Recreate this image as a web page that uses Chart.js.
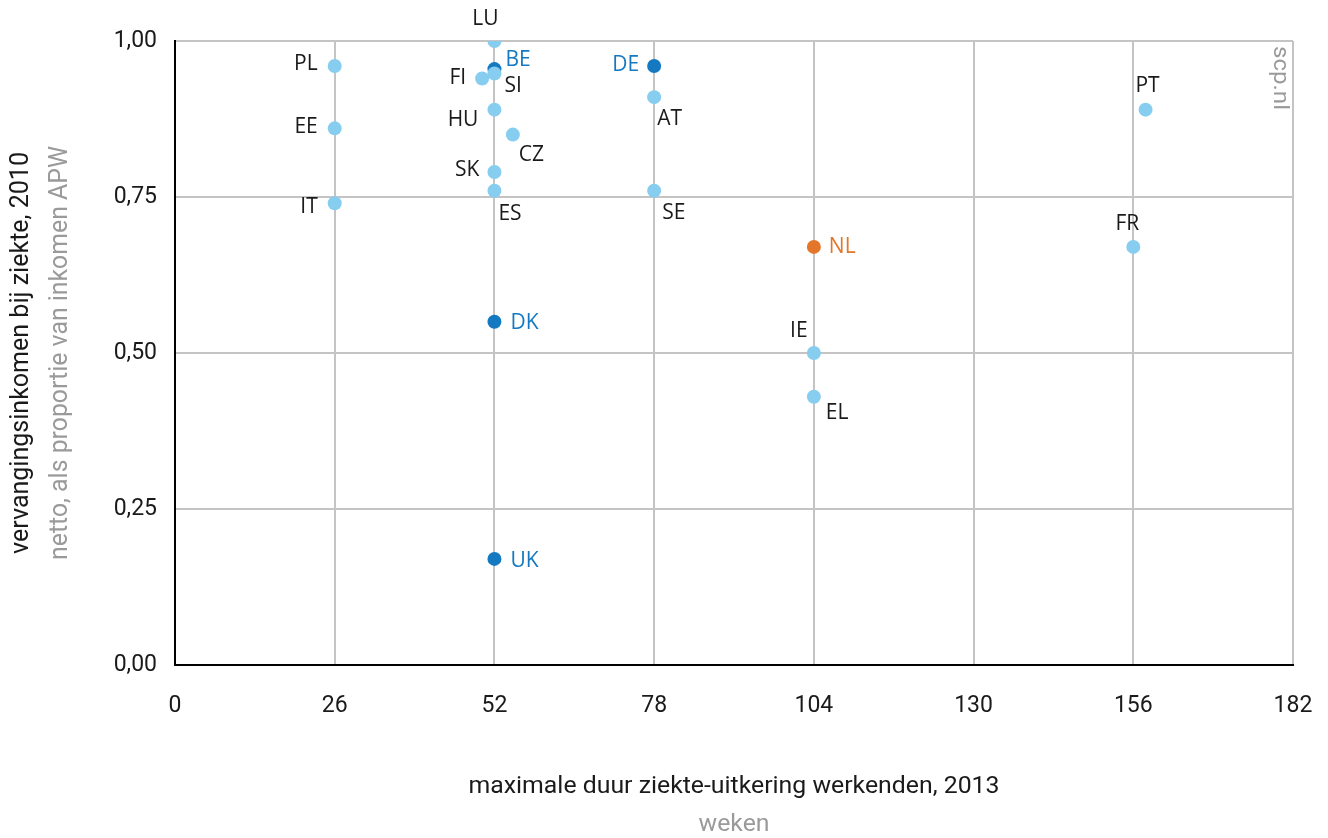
<!DOCTYPE html>
<html>
<head>
<meta charset="utf-8">
<script src="https://cdn.jsdelivr.net/npm/chart.js@4.4.1/dist/chart.umd.min.js"></script>
<style>
  html, body { margin: 0; padding: 0; background: #fff; }
  #wrap { width: 1328px; height: 838px; position: relative; }
</style>
</head>
<body>
<div id="wrap"><canvas id="chart" width="1328" height="838"></canvas></div>
<script>
// data
var countries = ['LU', 'PL', 'BE', 'FI', 'SI', 'DE', 'AT', 'EE', 'HU', 'CZ', 'SK', 'ES', 'SE', 'IT', 'NL', 'FR', 'PT', 'DK', 'IE', 'EL', 'UK'];
var maxWeeks = [52, 26, 52, 50, 52, 78, 78, 26, 52, 55, 52, 52, 78, 26, 104, 156, 158, 52, 104, 104, 52];
var replacementRate = [1.00, 0.96, 0.955, 0.94, 0.948, 0.96, 0.91, 0.86, 0.89, 0.85, 0.79, 0.76, 0.76, 0.74, 0.67, 0.67, 0.89, 0.55, 0.50, 0.43, 0.17];
var highlight = ['', '', 'blue', '', '', 'blue', '', '', '', '', '', '', '', '', 'nl', '', '', 'blue', '', '', 'blue'];
var xTicks = [0, 26, 52, 78, 104, 130, 156, 182];
var yTicks = [0, 0.25, 0.5, 0.75, 1];

// label placement next to each point: [dx, dy, align]
var labelPlacement = {
  LU: [-9, -22, 'center'], PL: [-17, -2, 'right'], BE: [11, -9, 'left'], FI: [-16, 0, 'right'],
  SI: [10, 13, 'left'], DE: [-15, -1, 'right'], AT: [3, 22, 'left'], EE: [-17, -1, 'right'],
  HU: [-16, 10, 'right'], CZ: [6, 20, 'left'], SK: [-15, -2, 'right'], ES: [4, 23, 'left'],
  SE: [8, 22, 'left'], IT: [-17, 4, 'right'], NL: [15, 0, 'left'], FR: [-6, -23, 'center'],
  PT: [2, -24, 'center'], DK: [16, 1, 'left'], IE: [-15, -22, 'center'], EL: [12, 16, 'left'],
  UK: [16, 2, 'left']
};

var lightBlue = '#86cdf0';
var darkBlue = '#1479c0';
var orange = '#e3762a';
var gridColor = '#c4c4c4';
var textColor = '#1a1a1a';
var greyText = '#9a9a9a';
var tickFont = 'Roboto, "Noto Sans", sans-serif';

function pointsFor(kind) {
  var pts = [];
  countries.forEach(function (c, i) {
    if (highlight[i] === kind) pts.push({ x: maxWeeks[i], y: replacementRate[i], label: c });
  });
  return pts;
}

function labelColor(kind) {
  if (kind === 'blue') return darkBlue;
  if (kind === 'nl') return orange;
  return textColor;
}

function drawSqueezed(ctx, text, x, y, rot, font, color, width) {
  ctx.save();
  ctx.font = font;
  ctx.fillStyle = color;
  ctx.textAlign = 'center';
  ctx.textBaseline = 'middle';
  ctx.translate(x, y);
  ctx.rotate(rot);
  var w = ctx.measureText(text).width;
  if (width) ctx.scale(width / w, 1);
  ctx.fillText(text, 0, 0);
  ctx.restore();
}

var pointLabels = {
  id: 'pointLabels',
  afterDatasetsDraw: function (chart) {
    var ctx = chart.ctx;
    ctx.save();
    ctx.font = '21px "Open Sans", sans-serif';
    ctx.textBaseline = 'middle';
    chart.data.datasets.forEach(function (ds, di) {
      var meta = chart.getDatasetMeta(di);
      ds.data.forEach(function (p, i) {
        var el = meta.data[i];
        var pl = labelPlacement[p.label];
        ctx.fillStyle = labelColor(ds.kind);
        ctx.textAlign = pl[2];
        ctx.fillText(p.label, el.x + pl[0], el.y + pl[1]);
      });
    });
    ctx.restore();
  }
};

var axisTitles = {
  id: 'axisTitles',
  afterDraw: function (chart) {
    var ctx = chart.ctx;
    var a = chart.chartArea;
    var cx = (a.left + a.right) / 2;
    var cy = (a.top + a.bottom) / 2;
    drawSqueezed(ctx, 'maximale duur ziekte-uitkering werkenden, 2013', cx, 787, 0, '24px ' + tickFont, textColor, 531);
    drawSqueezed(ctx, 'weken', cx, 825, 0, '24px ' + tickFont, greyText, 71);
    drawSqueezed(ctx, 'vervangingsinkomen bij ziekte, 2010', 21, cy, -Math.PI / 2, '26px ' + tickFont, textColor, 402);
    drawSqueezed(ctx, 'netto, als proportie van inkomen APW', 60, cy, -Math.PI / 2, '26px ' + tickFont, greyText, 414);
    drawSqueezed(ctx, 'scp.nl', a.right - 14, a.top + 37, Math.PI / 2, '22px ' + tickFont, greyText, 64);
  }
};

new Chart(document.getElementById('chart'), {
  type: 'scatter',
  data: {
    datasets: [
      { kind: '', data: pointsFor(''), backgroundColor: lightBlue },
      { kind: 'blue', data: pointsFor('blue'), backgroundColor: darkBlue },
      { kind: 'nl', data: pointsFor('nl'), backgroundColor: orange }
    ]
  },
  options: {
    responsive: false,
    animation: false,
    layout: { padding: { top: 41, right: 35, bottom: 0, left: 0 } },
    elements: { point: { radius: 7, borderWidth: 0, hoverRadius: 7 } },
    plugins: { legend: { display: false }, tooltip: { enabled: false } },
    scales: {
      x: {
        type: 'linear',
        min: 0,
        max: 182,
        afterBuildTicks: function (scale) {
          scale.ticks = xTicks.map(function (v) { return { value: v }; });
        },
        afterFit: function (scale) {
          scale.height = 173;
          scale.paddingLeft = 0;
          scale.paddingRight = 0;
        },
        ticks: { color: textColor, font: { family: tickFont, size: 23 }, padding: 27, maxRotation: 0 },
        grid: { color: gridColor, lineWidth: 2, drawTicks: false },
        border: { color: '#000', width: 2 }
      },
      y: {
        type: 'linear',
        min: 0,
        max: 1,
        afterBuildTicks: function (scale) {
          scale.ticks = yTicks.map(function (v) { return { value: v }; });
        },
        afterFit: function (scale) {
          scale.width = 175;
          scale.paddingTop = 0;
          scale.paddingBottom = 0;
        },
        ticks: {
          color: textColor,
          font: { family: tickFont, size: 23 },
          padding: 18,
          callback: function (v) { return v.toFixed(2).replace('.', ','); }
        },
        grid: { color: gridColor, lineWidth: 2, drawTicks: false },
        border: { color: '#000', width: 2 }
      }
    }
  },
  plugins: [pointLabels, axisTitles]
});
</script>
</body>
</html>
